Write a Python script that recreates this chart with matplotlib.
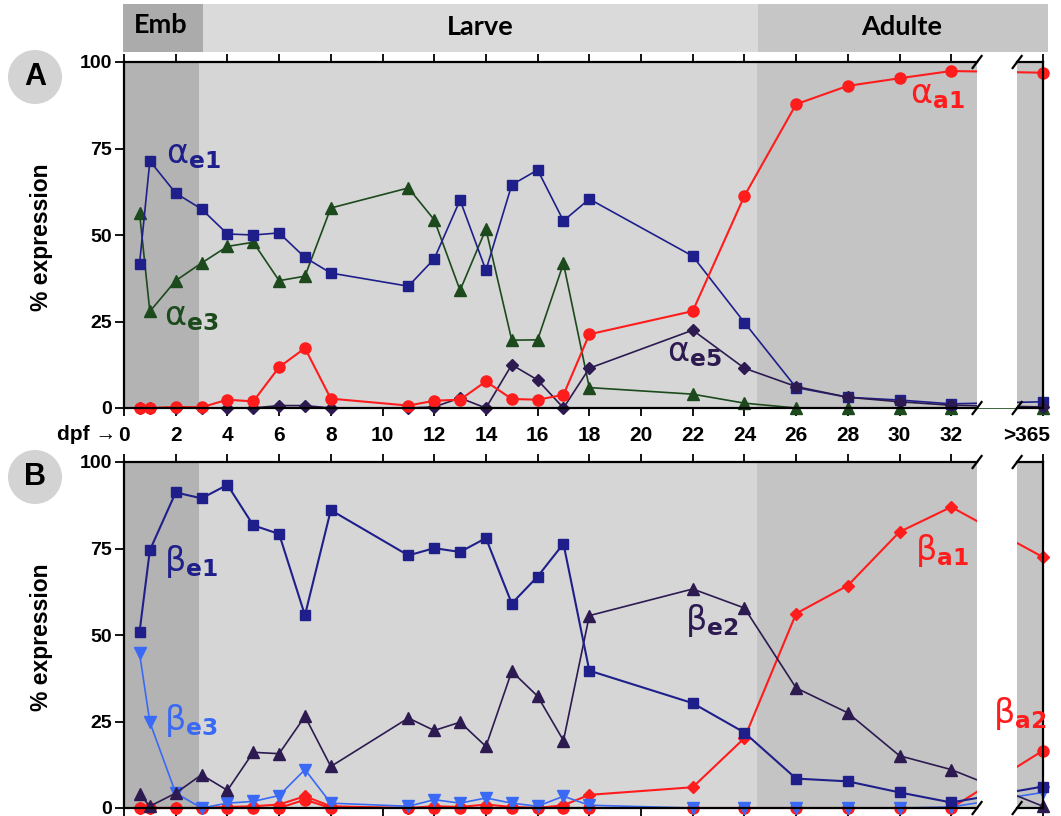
import matplotlib
matplotlib.use('Agg')
import matplotlib.pyplot as plt
import matplotlib.patches as patches
from matplotlib.transforms import ScaledTranslation

plt.rcParams['font.family'] = ['Liberation Sans', 'DejaVu Sans']
plt.rcParams['mathtext.fontset'] = 'dejavusans'

# sampling days (dpf); last point is the adult (>365 dpf) sample
days = [0.6, 1, 2, 3, 4, 5, 6, 7, 8, 11, 12, 13, 14, 15, 16, 17, 18, 22, 24, 26, 28, 30, 32]
tick_days = list(range(0, 33, 2))
tick_labels = [str(d) for d in tick_days] + ['>365']

# panel A - alpha globins
a_e1 = [41.6, 71.4, 62.1, 57.5, 50.3, 50.0, 50.6, 43.5, 39.0, 35.2, 43.1, 60.1, 39.8, 64.5,
        68.8, 54.1, 60.4, 43.9, 24.7, 5.9, 3.1, 2.3, 1.2, 1.8]
a_e3 = [56.4, 27.9, 36.8, 41.9, 46.7, 47.9, 36.8, 38.1, 57.8, 63.6, 54.4, 34.0, 51.7, 19.6,
        19.7, 41.8, 5.9, 4.0, 1.4, 0, 0, 0, 0, 0]
a_e5 = [0, 0, 0, 0, 0, 0, 0.7, 0.7, 0, 0, 0.3, 2.9, 0, 12.5,
        8.1, 0, 11.5, 22.5, 11.5, 6.2, 3.1, 1.8, 0.8, 0.3]
a_a1 = [0, 0, 0.3, 0.2, 2.4, 1.9, 11.8, 17.3, 2.7, 0.7, 2.1, 2.4, 7.7, 2.6,
        2.4, 3.8, 21.3, 28.0, 61.3, 87.8, 93.1, 95.3, 97.4, 96.9]

# panel B - beta globins
b_e1 = [50.8, 74.5, 91.2, 89.5, 93.4, 81.7, 79.2, 55.7, 86.1, 73.0, 75.1, 74.0, 78.0, 59.1,
        66.9, 76.4, 39.7, 30.3, 21.8, 8.5, 7.7, 4.5, 1.6, 6.2]
b_e2 = [4.0, 0.5, 4.3, 9.6, 5.1, 16.1, 15.7, 26.5, 12.0, 26.0, 22.4, 24.8, 17.8, 39.5,
        32.3, 19.5, 55.6, 63.3, 57.8, 34.7, 27.5, 15.1, 11.1, 0.5]
b_e3 = [44.8, 24.8, 4.3, 0, 1.4, 1.9, 3.6, 11.1, 1.4, 0.5, 2.4, 1.4, 2.9, 1.4,
        0.5, 3.4, 0.8, 0, 0, 0, 0, 0, 0.3, 4.5]
b_a1 = [0, 0, 0, 0, 0.3, 0.5, 1.0, 3.4, 0.5, 0, 0.5, 0.3, 1.0, 0.3,
        0, 0.8, 3.8, 6.0, 20.2, 56.2, 64.3, 79.8, 87.0, 72.5]
b_a2 = [0, 0, 0, 0, 0, 0, 0, 2.4, 0, 0, 0, 0, 0, 0,
        0, 0, 0, 0, 0, 0, 0, 0, 0, 16.6]

# broken axis layout
ADULT_X = 35.55
BRK_L, BRK_R = 33.0, 34.55
xs = days + [ADULT_X]

NAVY = '#1f1f8c'
GREEN = '#1c4a1c'
PURPLE = '#2c1a50'
RED = '#ff1c1c'
LBLUE = '#3a6af5'
EMB_G, LARVE_G, ADULT_G = '#b3b3b3', '#d6d6d6', '#c4c4c4'

W_PX, H_PX = 1061, 816
fig = plt.figure(figsize=(W_PX / 100, H_PX / 100), dpi=100)


def fx(px):
    return px / W_PX


def fy(py):
    return 1 - py / H_PX


L, R = fx(124), fx(1043)
axA = fig.add_axes([L, fy(408), R - L, 346 / H_PX])
axB = fig.add_axes([L, fy(808), R - L, 346 / H_PX])


def setup(ax, show_labels):
    ax.set_xlim(0, ADULT_X)
    ax.set_ylim(0, 100)
    ax.set_facecolor('white')
    ax.axvspan(0, 2.9, color=EMB_G, lw=0, zorder=0)
    ax.axvspan(2.9, 24.5, color=LARVE_G, lw=0, zorder=0)
    ax.axvspan(24.5, BRK_L, color=ADULT_G, lw=0, zorder=0)
    ax.axvspan(BRK_R, ADULT_X, color=ADULT_G, lw=0, zorder=0)
    ax.axvspan(BRK_L, BRK_R, color='white', lw=0, zorder=6)
    for s in ['left', 'right', 'top', 'bottom']:
        ax.spines[s].set_linewidth(1.6)
        ax.spines[s].set_zorder(7)
    ax.spines['top'].set_bounds(0, BRK_L)
    ax.spines['bottom'].set_bounds(0, BRK_L)
    for y in (0, 100):
        ax.plot([BRK_R, ADULT_X], [y, y], color='k', lw=1.6, clip_on=False, zorder=7)
        for xb in (BRK_L, BRK_R):
            ax.plot([xb - 0.2, xb + 0.2], [y - 2.0, y + 2.0], color='k', lw=1.6,
                    clip_on=False, zorder=7, solid_capstyle='butt')
    ax.set_xticks(tick_days + [ADULT_X])
    labs = ax.set_xticklabels(tick_labels, fontweight='bold')
    ax.tick_params(axis='x', top=True, bottom=True, direction='out', length=6, width=1.3,
                   labelsize=15, labelbottom=show_labels, labeltop=False, pad=7)
    ax.set_yticks([0, 25, 50, 75, 100])
    ax.set_yticklabels(['0', '25', '50', '75', '100'], fontweight='bold')
    ax.tick_params(axis='y', direction='out', length=6.5, width=1.3, labelsize=14, pad=2)
    # the >365 label sits a little left of its tick
    lab = labs[-1]
    lab.set_transform(lab.get_transform() + ScaledTranslation(-0.16, 0, fig.dpi_scale_trans))


setup(axA, True)
setup(axB, False)


def series(ax, ys, color, marker, ms, lw=1.2):
    ax.plot(xs, ys, color=color, marker=marker, ms=ms, lw=lw, mec=color,
            clip_on=False, zorder=5)


series(axA, a_e3, GREEN, '^', 8)
series(axA, a_e1, NAVY, 's', 6.5)
series(axA, a_e5, PURPLE, 'D', 6)
series(axA, a_a1, RED, 'o', 8, lw=1.5)

series(axB, b_a2, RED, 'o', 8, lw=1.5)
series(axB, b_a1, RED, 'D', 6.5, lw=1.5)
series(axB, b_e3, LBLUE, 'v', 8)
series(axB, b_e2, PURPLE, '^', 8)
series(axB, b_e1, NAVY, 's', 6.5, lw=1.5)

GK = dict(fontsize=24, zorder=9, va='baseline', ha='left')
axA.text(1.62, 70.8, r'$\mathrm{\alpha}_{\mathbf{e1}}$', color=NAVY, **GK)
axA.text(1.55, 24.0, r'$\mathrm{\alpha}_{\mathbf{e3}}$', color=GREEN, **GK)
axA.text(21.0, 13.4, r'$\mathrm{\alpha}_{\mathbf{e5}}$', color=PURPLE, **GK)
axA.text(30.4, 88.0, r'$\mathrm{\alpha}_{\mathbf{a1}}$', color=RED, **GK)
axB.text(1.55, 68.4, r'$\mathrm{\beta}_{\mathbf{e1}}$', color=NAVY, **GK)
axB.text(1.55, 22.6, r'$\mathrm{\beta}_{\mathbf{e3}}$', color=LBLUE, **GK)
axB.text(21.7, 51.5, r'$\mathrm{\beta}_{\mathbf{e2}}$', color=PURPLE, **GK)
axB.text(30.6, 71.8, r'$\mathrm{\beta}_{\mathbf{a1}}$', color=RED, **GK)
axB.text(33.6, 24.6, r'$\mathrm{\beta}_{\mathbf{a2}}$', color=RED, **GK)

# stage header
for x0, x1, c in [(123, 203, '#ababab'), (203, 758, '#dadada'), (758, 1048, '#c6c6c6')]:
    fig.add_artist(patches.Rectangle((fx(x0), fy(52)), fx(x1) - fx(x0), fy(4) - fy(52),
                                     transform=fig.transFigure, color=c, lw=0))
HF = dict(ha='center', va='center', fontsize=19.5, family=['Lato', 'DejaVu Sans'], weight='bold')
fig.text(fx(161), fy(25), 'Emb', **HF)
fig.text(fx(480), fy(27), 'Larve', **HF)
fig.text(fx(902), fy(27), 'Adulte', **HF)

# panel letters
for cy, letter in [(77, 'A'), (477, 'B')]:
    fig.add_artist(patches.Ellipse((fx(35), fy(cy)), 54 / W_PX, 54 / H_PX,
                                   transform=fig.transFigure, color='#d3d3d3', lw=0))
    fig.text(fx(35), fy(cy), letter, ha='center', va='center', fontsize=22, weight='bold')

for cy in (237, 637):
    fig.text(fx(42), fy(cy), '% expression', rotation=90, ha='center', va='center',
             fontsize=16.5, weight='bold')

fig.text(fx(116), fy(435), 'dpf \u2192', ha='right', va='center', fontsize=15, weight='bold')

fig.savefig('out.png', dpi=100)
